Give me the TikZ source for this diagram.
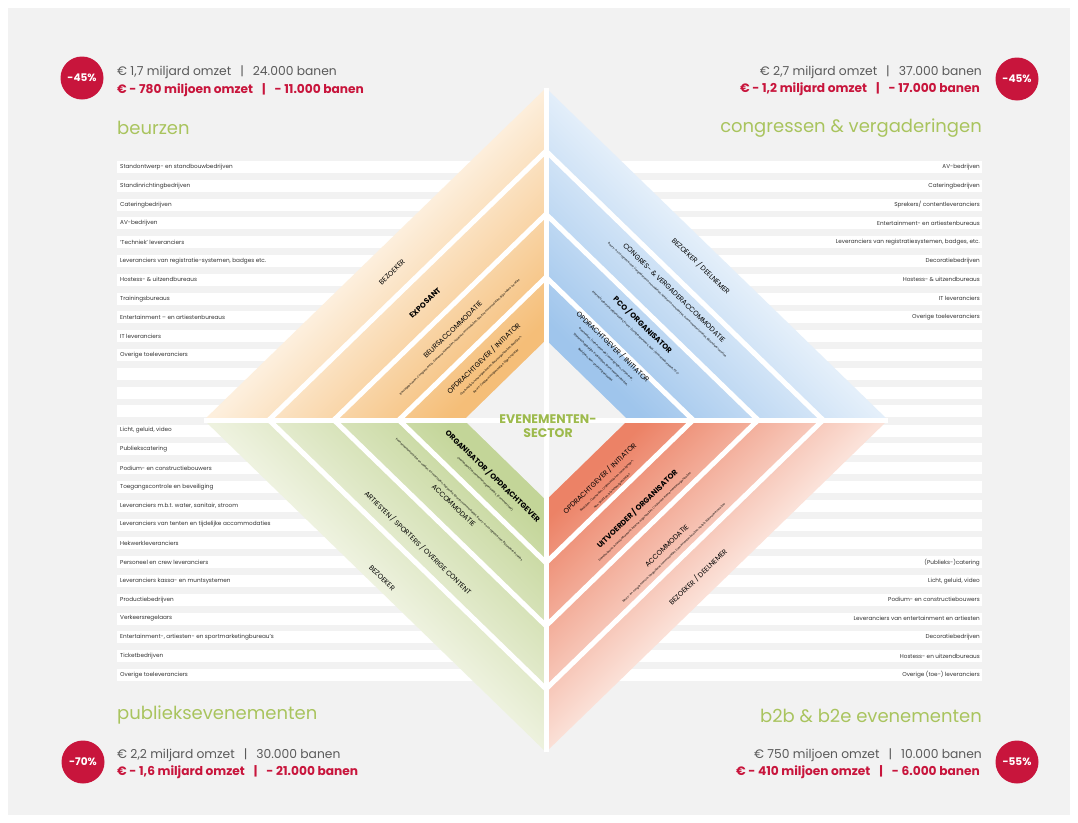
\documentclass[tikz,border=0pt]{standalone}
\usepackage{fontspec}
\setmainfont{Poppins}

\definecolor{panel}{HTML}{F2F2F2}
\definecolor{crimson}{HTML}{C8153C}
\definecolor{figgrey}{HTML}{5A5A5A}
\definecolor{listgrey}{HTML}{333333}
\definecolor{titlegreen}{HTML}{A9C45E}
\definecolor{sectorgreen}{HTML}{9DBA4C}
\definecolor{orangedark}{HTML}{F5BE78}
\definecolor{orangelight}{HTML}{FDEFDD}
\definecolor{bluedark}{HTML}{9FC5EC}
\definecolor{bluelight}{HTML}{E4EFFA}
\definecolor{greendark}{HTML}{C3D598}
\definecolor{greenlight}{HTML}{EEF2DF}
\definecolor{reddark}{HTML}{EC8266}
\definecolor{redlight}{HTML}{FBE2D9}

\tikzset{
  listrow/.style={fill=white},
  listleft/.style={anchor=west, inner sep=0pt, text=listgrey, font=\fontsize{5.7}{6}\selectfont},
  listright/.style={anchor=east, inner sep=0pt, text=listgrey, font=\fontsize{5.7}{6}\selectfont},
  figures/.style={inner sep=0pt, text=figgrey, font=\fontsize{12.3}{14}\selectfont},
  loss/.style={inner sep=0pt, text=crimson, font=\fontsize{12.2}{14}\selectfont\bfseries},
  market/.style={inner sep=0pt, text=titlegreen, font=\fontsize{18}{21}\selectfont},
  badge/.style={circle, fill=crimson, minimum size=43pt, inner sep=0pt, text=white, font=\fontsize{10.5}{12}\selectfont\bfseries},
  bandgap/.style={draw=white, line width=5pt},
  role/.style={inner sep=0pt, align=center, text=black, font=\fontsize{7}{7.5}\selectfont},
  keyrole/.style={role, font=\fontsize{7.5}{8}\selectfont\bfseries},
}
\newcommand{\smalltype}{\fontsize{2.8}{3.4}\selectfont\mdseries}
\newcommand{\figsep}{\hspace{9pt}|\hspace{9pt}}

\begin{document}
\begin{tikzpicture}[x=1pt,y=-1pt]
  \useasboundingbox (0,0) rectangle (1078,822);
  \fill[white] (0,0) rectangle (1078,822);
  \fill[panel] (8,8) rectangle (1070,815);

  % rows behind the lists
  \foreach \i in {0,...,13} {
    \fill[listrow] (117,{167+18.8*\i-6}) rectangle (982,{167+18.8*\i+6});
    \fill[listrow] (117,{430.5+18.8*\i-6}) rectangle (982,{430.5+18.8*\i+6});
  }

  % the four quarters
  \shade[top color=orangelight, bottom color=orangedark, middle color=orangelight, shading angle=45]
    (204,420) -- (546,88) -- (546,420) -- cycle;
  \shade[top color=bluelight, bottom color=bluedark, middle color=bluelight, shading angle=-45]
    (888,420) -- (546,88) -- (546,420) -- cycle;
  \shade[bottom color=greenlight, top color=greendark, middle color=greenlight, shading angle=-45]
    (204,420) -- (546,752) -- (546,420) -- cycle;
  \shade[bottom color=redlight, top color=reddark, middle color=redlight, shading angle=45]
    (888,420) -- (546,752) -- (546,420) -- cycle;

  \fill[panel] (464,420) -- (546,340) -- (628,420) -- (546,500) -- cycle;
  \foreach \t in {0.43,0.62,0.81}
    \draw[bandgap] ({546-342*\t},420) -- (546,{420-332*\t}) -- ({546+342*\t},420) -- (546,{420+332*\t}) -- cycle;
  \draw[bandgap] (204,420) -- (888,420);
  \draw[bandgap] (546,88) -- (546,752);

  \node[font=\fontsize{12.5}{14}\selectfont\bfseries, text=sectorgreen, align=center, inner sep=0pt] (sector) at (548,426) {EVENEMENTEN-\\SECTOR};

  % beurzen
  \node[role, rotate=44] (tl-visitor) at (392,272) {BEZOEKER};
  \node[keyrole, rotate=44] (tl-exhibitor) at (425,303) {EXPOSANT};
  \node[role, rotate=44] (tl-venue) at (456,333) {BEURSACCOMMODATIE\\[1pt]\smalltype Beursgebouwen, Congrescentra, Evenementenhallen, Hotelaccommodaties, Sportaccommodaties, Bijzondere locaties};
  \node[role, rotate=44] (tl-client) at (489,364) {OPDRACHTGEVER / INITIATOR\\[1pt]\smalltype Overheid/brancheorganisaties, Beursorganisaties, Bedrijven,\\\smalltype Beurs-/vakbeursorganisaties, Eigen initiatief};

  % congressen
  \node[role, rotate=-44] (tr-visitor) at (701,266) {BEZOEKER / DEELNEMER};
  \node[role, rotate=-44] (tr-venue) at (671,296) {CONGRES- \& VERGADERACCOMMODATIE\\[1pt]\smalltype Beurs- en congrescentra, Vergaderaccommodaties, Hotelaccommodaties, Evenementenlocaties, Bijzondere locaties};
  \node[keyrole, rotate=-44] (tr-pco) at (640,328) {PCO / ORGANISATOR\\[1pt]\smalltype Interne/corporate organisaties, Event-/congresbureaus, Reis-/incentivebureaus, PCO};
  \node[role, rotate=-44] (tr-client) at (605,355) {OPDRACHTGEVER / INITIATOR\\[1pt]\smalltype Overheden, (Internationale) verenigingen, Corporate,\\\smalltype Wetenschappelijke instellingen, Brancheorganisaties,\\\smalltype Bedrijven, Non-profit organisaties};

  % publieksevenementen
  \node[keyrole, rotate=-44] (bl-client) at (490,479) {ORGANISATOR / OPDRACHTGEVER\\[1pt]\smalltype Overheden/Evenementenorganisaties, (Commercieel)};
  \node[role, rotate=-44] (bl-venue) at (456,503) {\smalltype Evenementenlocaties en velden, Concertzalen, Poppodia, Sportaccommodaties, Beurs- en congrescentra, Bijzondere locaties\\[2pt]ACCOMMODATIE};
  \node[role, rotate=-44] (bl-content) at (418,543) {ARTIESTEN / SPORTERS / OVERIGE CONTENT};
  \node[role, rotate=-44] (bl-visitor) at (382,578) {BEZOEKER};

  % b2b & b2e
  \node[role, rotate=44] (br-client) at (605,484) {OPDRACHTGEVER / INITIATOR\\[1pt]\smalltype Bedrijven, Overheden, Organisaties en verenigingen,\\\smalltype Non-profit en brancheorganisaties};
  \node[keyrole, rotate=44] (br-organiser) at (640,512) {UITVOERDER / ORGANISATOR\\[1pt]\smalltype Eventbureaus, Incentivebureaus, Interne organisaties, Corporate evenementenorganisaties};
  \node[role, rotate=44] (br-venue) at (670,549) {ACCOMMODATIE\\[1pt]\smalltype Beurs- en congrescentra, Vergaderaccommodaties, Evenementenlocaties, Hotels, Bijzondere locaties};
  \node[role, rotate=44] (br-visitor) at (698,577) {BEZOEKER / DEELNEMER};

  % supplier lists
  \foreach \item [count=\i from 0] in {Standontwerp- en standbouwbedrijven, Standinrichtingbedrijven, Cateringbedrijven, AV-bedrijven, {‘Techniek’ leveranciers}, {Leveranciers van registratie-systemen, badges etc.}, Hostess- \& uitzendbureaus, Trainingsbureaus, Entertainment – en artiestenbureaus, IT leveranciers, Overige toeleveranciers}
    \node[listleft] (beurs-\i) at (120,{167+18.8*\i}) {\item};
  \foreach \item [count=\i from 0] in {AV-bedrijven, Cateringbedrijven, {Sprekers/ contentleveranciers}, Entertainment- en artiestenbureaus, {Leveranciers van registratiesystemen, badges, etc.}, Decoratiebedrijven, Hostess- \& uitzendbureaus, IT leveranciers, Overige toeleveranciers}
    \node[listright] (congres-\i) at (980,{167+18.8*\i}) {\item};
  \foreach \item [count=\i from 0] in {{Licht, geluid, video}, Publiekscatering, Podium- en constructiebouwers, Toegangscontrole en beveiliging, {Leveranciers m.b.t. water, sanitair, stroom}, Leveranciers van tenten en tijdelijke accommodaties, Hekwerkleveranciers, Personeel en crew leveranciers, Leveranciers kassa- en muntsystemen, Productiebedrijven, Verkeersregelaars, {Entertainment-, artiesten- en sportmarketingbureau’s}, Ticketbedrijven, Overige toeleveranciers}
    \node[listleft] (publiek-\i) at (120,{430.5+18.8*\i}) {\item};
  \foreach \item [count=\i from 7] in {{(Publieks-)catering}, {Licht, geluid, video}, Podium- en constructiebouwers, Leveranciers van entertainment en artiesten, Decoratiebedrijven, Hostess- en uitzendbureaus, {Overige (toe-) leveranciers}}
    \node[listright] (b2b-\i) at (980,{430.5+18.8*\i}) {\item};

  % market figures
  \node[badge] (badge-beurs) at (82,78) {-45\%};
  \node[figures, anchor=west] (fig-beurs) at (117,72) {€ 1,7 miljard omzet\figsep 24.000 banen};
  \node[loss, anchor=west] (loss-beurs) at (117,90) {€ - 780 miljoen omzet\figsep - 11.000 banen};
  \node[market, anchor=west] (title-beurs) at (117,128) {beurzen};

  \node[badge] (badge-congres) at (1017,79) {-45\%};
  \node[figures, anchor=east] (fig-congres) at (982,72) {€ 2,7 miljard omzet\figsep 37.000 banen};
  \node[loss, anchor=east] (loss-congres) at (980,89) {€ - 1,2 miljard omzet\figsep - 17.000 banen};
  \node[market, anchor=east] (title-congres) at (982,128) {congressen \& vergaderingen};

  \node[market, anchor=west] (title-publiek) at (117,715) {publieksevenementen};
  \node[badge] (badge-publiek) at (83,762) {-70\%};
  \node[figures, anchor=west] (fig-publiek) at (117,755) {€ 2,2 miljard omzet\figsep 30.000 banen};
  \node[loss, anchor=west] (loss-publiek) at (117,772) {€ - 1,6 miljard omzet\figsep - 21.000 banen};

  \node[market, anchor=east] (title-b2b) at (982,716) {b2b \& b2e evenementen};
  \node[badge] (badge-b2b) at (1017,762) {-55\%};
  \node[figures, anchor=east] (fig-b2b) at (982,755) {€ 750 miljoen omzet\figsep 10.000 banen};
  \node[loss, anchor=east] (loss-b2b) at (980,772) {€ - 410 miljoen omzet\figsep - 6.000 banen};
\end{tikzpicture}
\end{document}
